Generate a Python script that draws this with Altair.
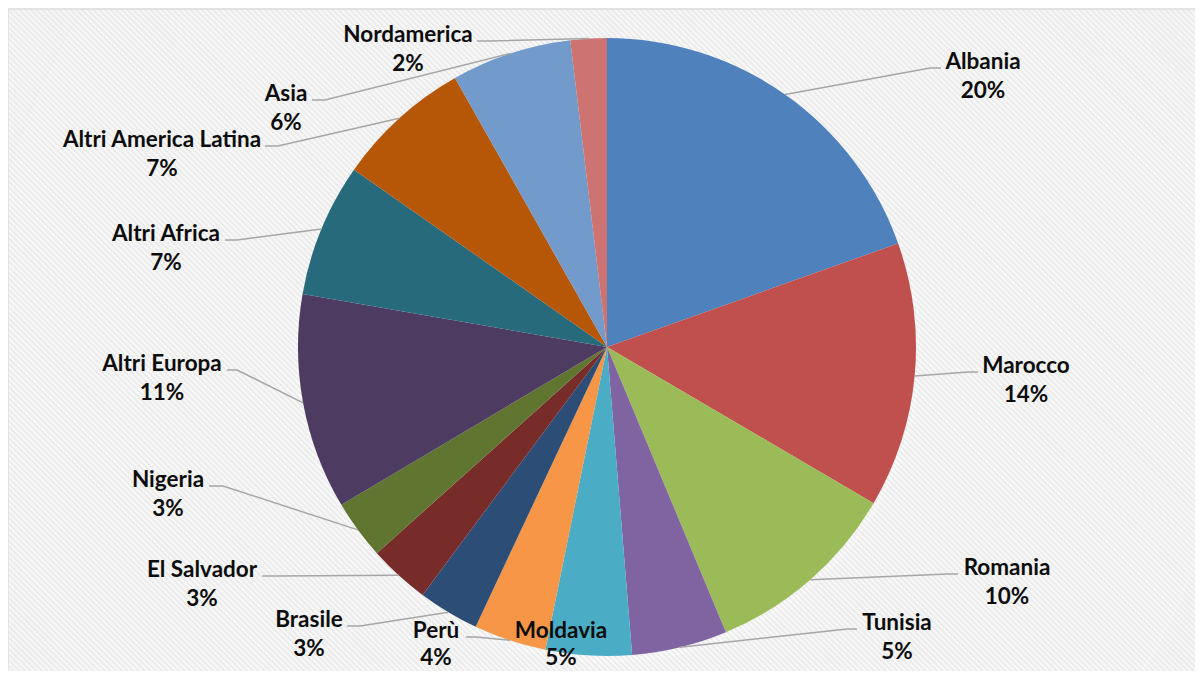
import math
import numpy as np
import pandas as pd
import altair as alt

# ---------------- data ----------------
COUNTRIES = ["Albania", "Marocco", "Romania", "Tunisia", "Moldavia", "Perù",
             "Brasile", "El Salvador", "Nigeria", "Altri Europa", "Altri Africa",
             "Altri America Latina", "Asia", "Nordamerica"]
SHARES = [19.6, 13.9, 10.3, 5.0, 4.5, 3.8, 3.2, 3.2, 3.1, 11.3, 7.0, 7.1, 6.3, 1.9]
PCT_LABELS = ["20%", "14%", "10%", "5%", "5%", "4%", "3%", "3%", "3%",
              "11%", "7%", "7%", "6%", "2%"]
COLORS = ["#4F81BD", "#C0504D", "#9BBB59", "#8064A2", "#4BACC6", "#F79646",
          "#2C4D75", "#772C2A", "#5F7530", "#4D3B62", "#276A7C", "#B65708",
          "#729ACA", "#CD7371"]

# ---------------- layout (chart pixel space) ----------------
W, H = 1187, 663
CX, CY, R = 599, 339, 309
# label: (centre x, name baseline y); leader: (end x, elbow x) or None
LABEL_POS = [(975, 61), (1018, 365), (999, 567), (889, 622), (553, 630),
             (428, 630), (301, 619), (194, 569), (160, 479), (154, 363),
             (158, 233), (154, 139), (278, 93), (400, 34)]
LEADER = [(933, 922), (970, 960), (950, 940), (849, 839), None,
          (458, 468), (339, 352), (254, 267), (201, 215), (219, 229),
          (217, 229), (257, 270), (304, 317), (469, 482)]
LINE_H = [29, 29, 29, 29, 27, 27, 29, 29, 29, 29, 29, 29, 29, 29]

# ---------------- tables ----------------
pie_df = pd.DataFrame({"country": COUNTRIES, "share": SHARES,
                       "idx": list(range(len(COUNTRIES)))})

total = sum(SHARES)
lead_rows, lab_rows = [], []
cum = 0.0
for i, (name, v) in enumerate(zip(COUNTRIES, SHARES)):
    a = 2 * math.pi * (cum + v / 2) / total
    cum += v
    px, py = CX + R * math.sin(a), CY - R * math.cos(a)
    lx, ly = LABEL_POS[i]
    lab_rows.append({"country": name, "x": lx, "y": ly, "pct": PCT_LABELS[i],
                     "y2": ly + LINE_H[i]})
    if LEADER[i] is not None:
        ex, elx = LEADER[i]
        yy = ly - 1
        for k, (xx, yv) in enumerate([(px, py), (elx, yy), (ex, yy)]):
            lead_rows.append({"country": name, "pt": k, "x": xx, "y": yv})
lab_df = pd.DataFrame(lab_rows)
lead_df = pd.DataFrame(lead_rows)

# background hatch (decoration)
step = 5.7
starts = np.arange(-H, W + step, step)
hatch_df = pd.DataFrame({"x": starts, "y": 0.0, "x2": starts + H, "y2": float(H)})

glow_df = pd.DataFrame({"r": [R + k for k in range(26, 0, -2)],
                        "o": [0.12 + 0.07 * (13 - j) for j in range(13)]})
shadow_df = pd.DataFrame({"r": [R + 4, R + 3, R + 2, R + 1],
                          "o": [0.06, 0.08, 0.10, 0.12]})

px_x = lambda f: alt.X(f, scale=None, axis=None)
px_y = lambda f: alt.Y(f, scale=None, axis=None)

hatch = alt.Chart(hatch_df).mark_rule(color="#EDEDED", strokeWidth=1.8, clip=True).encode(
    x=px_x("x:Q"), y=px_y("y:Q"), x2="x2:Q", y2="y2:Q")

border_top = alt.Chart(pd.DataFrame({"a": [0]})).mark_rule(color="#D9D9D9", strokeWidth=1.5).encode(
    x=alt.value(0), x2=alt.value(W), y=alt.value(1))
border_left = alt.Chart(pd.DataFrame({"a": [0]})).mark_rule(color="#D9D9D9", strokeWidth=1.5).encode(
    x=alt.value(0), y=alt.value(0), y2=alt.value(H))

glow = alt.Chart(glow_df).mark_arc(theta=0, theta2=2 * math.pi, color="white").encode(
    x=alt.value(CX), y=alt.value(CY),
    radius=alt.Radius("r:Q", scale=None), opacity=alt.Opacity("o:Q", scale=None))

shadow = alt.Chart(shadow_df).mark_arc(theta=0, theta2=2 * math.pi, color="#808080").encode(
    x=alt.value(CX + 1), y=alt.value(CY + 3),
    radius=alt.Radius("r:Q", scale=None), opacity=alt.Opacity("o:Q", scale=None))

pie = alt.Chart(pie_df).mark_arc(outerRadius=R).encode(
    theta=alt.Theta("share:Q", stack=True),
    order=alt.Order("idx:Q", sort="ascending"),
    color=alt.Color("country:N", scale=alt.Scale(domain=COUNTRIES, range=COLORS), legend=None),
    x=alt.value(CX), y=alt.value(CY))

leaders = alt.Chart(lead_df).mark_line(color="#A6A6A6", strokeWidth=1.5).encode(
    x=px_x("x:Q"), y=px_y("y:Q"), detail="country:N", order="pt:Q")

FS = 22.5
name_txt = alt.Chart(lab_df).mark_text(font="Lato", fontWeight="bold", fontSize=FS,
                                       color="#0D0D0D", align="center",
                                       baseline="alphabetic").encode(
    x=px_x("x:Q"), y=px_y("y:Q"), text="country:N")
pct_txt = alt.Chart(lab_df).mark_text(font="Lato", fontWeight="bold", fontSize=FS,
                                      color="#0D0D0D", align="center",
                                      baseline="alphabetic").encode(
    x=px_x("x:Q"), y=px_y("y2:Q"), text="pct:N")

chart = alt.layer(hatch, border_top, border_left, shadow, glow, pie, leaders,
                  name_txt, pct_txt).properties(
    width=W, height=H, padding=0, background="white",
    autosize=alt.AutoSizeParams(type="none")
).configure_view(stroke=None)

chart.save("out.html", embed_options={"renderer": "svg", "actions": False})
